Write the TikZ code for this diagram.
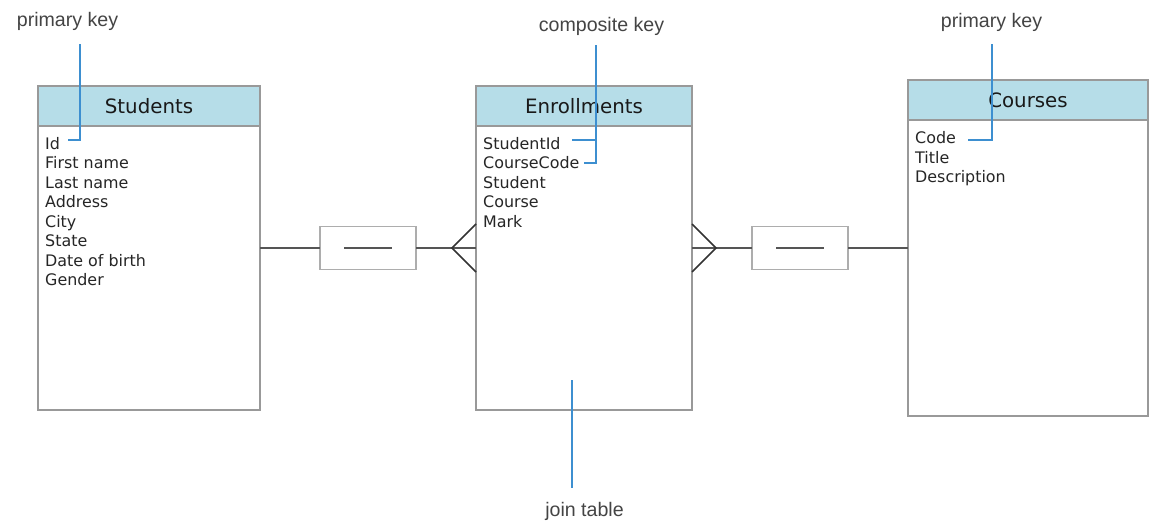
\documentclass[tikz,border=0pt]{standalone}
\usepackage{fontspec}
\setmainfont{DejaVu Sans}
\newfontfamily\lblfont{Liberation Sans}
\usetikzlibrary{calc}

\definecolor{hdrblue}{HTML}{B6DDE8}
\definecolor{boxgray}{HTML}{999999}
\definecolor{keyblue}{HTML}{3D8FD0}
\definecolor{lblgray}{HTML}{444444}
\definecolor{linkgray}{HTML}{555555}

\begin{document}
\begin{tikzpicture}[x=1pt,y=-1pt,
  tbl/.style={draw=boxgray,line width=1.5pt,fill=white,anchor=north west,inner sep=0,outer sep=0},
  hdr/.style={draw=boxgray,line width=1.5pt,fill=hdrblue,anchor=north west,inner sep=0,outer sep=0,minimum height=40pt},
  ttl/.style={anchor=base,font=\fontsize{19.8}{24}\selectfont,text=black!90,inner sep=0},
  fld/.style={anchor=base west,font=\fontsize{15.9}{19.5}\selectfont,text=black!85,inner sep=0},
  lbl/.style={anchor=base,font=\lblfont\fontsize{19.6}{23}\selectfont,text=lblgray,inner sep=0},
  key/.style={draw=keyblue,line width=2pt},
  link/.style={draw=linkgray,line width=2pt},
  crow/.style={draw=black!80,line width=1.5pt},
  onebox/.style={draw=boxgray!80,line width=1.5pt,fill=white,minimum width=96pt,minimum height=43pt,inner sep=0,outer sep=0}]
\useasboundingbox (0,0) rectangle (1167,530);
% tables
\node[tbl,minimum width=222pt,minimum height=324pt] (stu) at (38,86) {};
\node[hdr,minimum width=222pt] (stuHdr) at (38,86) {};
\node[tbl,minimum width=216pt,minimum height=324pt] (enr) at (476,86) {};
\node[hdr,minimum width=216pt] (enrHdr) at (476,86) {};
\node[tbl,minimum width=240pt,minimum height=336pt] (crs) at (908,80) {};
\node[hdr,minimum width=240pt] (crsHdr) at (908,80) {};
\node[ttl] (stuTtl) at (149,113.3) {Students};
\node[ttl] (enrTtl) at (584,113) {Enrollments};
\node[ttl] (crsTtl) at (1028,107.5) {Courses};
% fields
\foreach \f [count=\i] in {Id,First name,Last name,Address,City,State,Date of birth,Gender}
  \node[fld] (stuF\i) at (45,{149+19.5*(\i-1)}) {\f};
\foreach \f [count=\i] in {StudentId,CourseCode,Student,Course,Mark}
  \node[fld] (enrF\i) at (483,{149+19.5*(\i-1)}) {\f};
\foreach \f [count=\i] in {Code,Title,Description}
  \node[fld] (crsF\i) at (915,{143.5+19.5*(\i-1)}) {\f};
% relationships
\node[onebox] (relSE) at (368,248) {};
\node[onebox] (relEC) at (800,248) {};
\draw[link] (stu.east) -- (relSE.west);
\draw[link] (relSE.east) -- (enr.west);
\draw[link] ([xshift=-24pt]relSE.center) -- ([xshift=24pt]relSE.center);
\draw[link] (enr.east) -- (relEC.west);
\draw[link] (relEC.east) -- (crs.west);
\draw[link] ([xshift=-24pt]relEC.center) -- ([xshift=24pt]relEC.center);
\draw[crow] ([yshift=24pt]enr.west) -- ([xshift=-24pt]enr.west) -- ([yshift=-24pt]enr.west);
\draw[crow] ([yshift=24pt]enr.east) -- ([xshift=24pt]enr.east) -- ([yshift=-24pt]enr.east);
% annotations
\node[lbl] (pkStuLbl) at (67.5,26.8) {primary key};
\node[lbl] (ckLbl) at (601.5,31.5) {composite key};
\node[lbl] (pkCrsLbl) at (991.5,27.5) {primary key};
\node[lbl] (joinLbl) at (584.5,516.5) {join table};
\coordinate (pkStu) at (80,44); \coordinate (idEnd) at (68,140);
\coordinate (ck) at (596,45); \coordinate (ccEnd) at (584,163); \coordinate (sidEnd) at (572,140);
\coordinate (pkCrs) at (992,44); \coordinate (codeEnd) at (968,140);
\coordinate (jtTop) at (572,380); \coordinate (jtBot) at (572,488);
\draw[key] (pkStu) |- (idEnd);
\draw[key] (ck) |- (ccEnd);
\draw[key] (sidEnd) -- (sidEnd -| ck);
\draw[key] (pkCrs) |- (codeEnd);
\draw[key] (jtTop) -- (jtBot);
\end{tikzpicture}
\end{document}
